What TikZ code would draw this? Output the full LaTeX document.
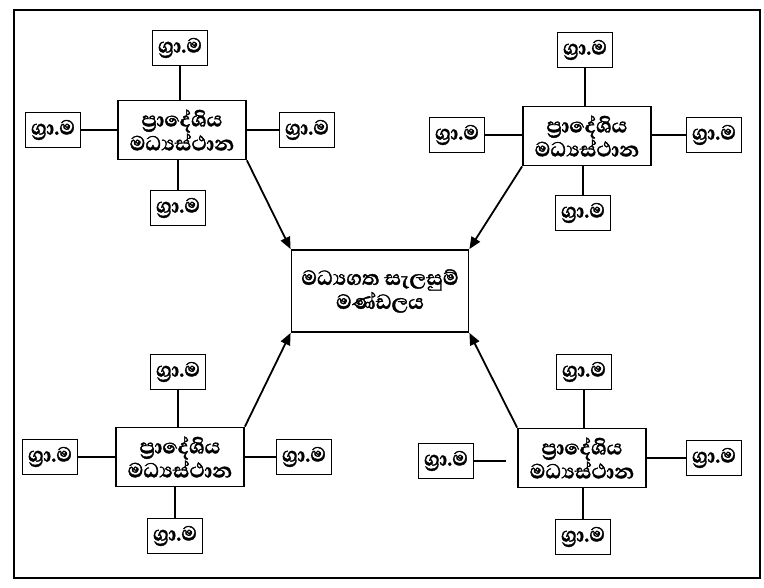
\documentclass[tikz,border=0pt]{standalone}
\usepackage{fontspec}
\newfontfamily\sinhfont[Script=Sinhala,FakeBold=1.5]{Abhaya Libre}
\usetikzlibrary{arrows.meta}
\begin{document}
\begin{tikzpicture}[x=1pt,y=-1pt,
  basebox/.style={draw,line width=1.8pt,inner sep=0pt,align=center,font=\sinhfont\bfseries\fontsize{26}{24}\selectfont},
  gmbox/.style={basebox,minimum width=55pt,minimum height=35pt},
  pmbox/.style={basebox,minimum width=128pt,minimum height=59pt},
  cmbox/.style={basebox,minimum width=177pt,minimum height=82pt},
  linkline/.style={line width=1.5pt},
  arrline/.style={line width=1.8pt,-{Triangle[length=12pt,width=10pt]}}]
\useasboundingbox (0,0) rectangle (764,588);
\draw[line width=2.8pt] (14,10) rectangle (760,578);
\node[cmbox] (c) at (380,291) {මධ්‍යගත සැලසුම්\\මණ්ඩලය};
% top-left
\node[pmbox] (p1) at (182,130) {ප්‍රාදේශිය\\මධ්‍යස්ථාන};
\node[gmbox] (p1t) at (180,48) {ග්‍රා.ම};
\node[gmbox] (p1l) at (53,130) {ග්‍රා.ම};
\node[gmbox] (p1r) at (307,130) {ග්‍රා.ම};
\node[gmbox] (p1b) at (178,208) {ග්‍රා.ම};
% top-right
\node[pmbox] (p2) at (587,136) {ප්‍රාදේශිය\\මධ්‍යස්ථාන};
\node[gmbox] (p2t) at (585,50) {ග්‍රා.ම};
\node[gmbox] (p2l) at (457,135) {ග්‍රා.ම};
\node[gmbox] (p2r) at (714,135) {ග්‍රා.ම};
\node[gmbox] (p2b) at (583,213) {ග්‍රා.ම};
% bottom-left
\node[pmbox] (p3) at (180,457) {ප්‍රාදේශිය\\මධ්‍යස්ථාන};
\node[gmbox] (p3t) at (178,372) {ග්‍රා.ම};
\node[gmbox] (p3l) at (50,457) {ග්‍රා.ම};
\node[gmbox] (p3r) at (304,457) {ග්‍රා.ම};
\node[gmbox] (p3b) at (175,536) {ග්‍රා.ම};
% bottom-right
\node[pmbox] (p4) at (582,458) {ප්‍රාදේශිය\\මධ්‍යස්ථාන};
\node[gmbox] (p4t) at (584,372) {ග්‍රා.ම};
\node[gmbox] (p4l) at (446,461) {ග්‍රා.ම};
\node[gmbox] (p4r) at (714,458) {ග්‍රා.ම};
\node[gmbox] (p4b) at (583,537) {ග්‍රා.ම};
% links
\draw[linkline] (p1t.south) -- (p1t.south |- p1.north);
\draw[linkline] (p1l.east) -- (p1l.east -| p1.west);
\draw[linkline] (p1r.west) -- (p1r.west -| p1.east);
\draw[linkline] (p1b.north) -- (p1b.north |- p1.south);
\draw[linkline] (p2t.south) -- (p2t.south |- p2.north);
\draw[linkline] (p2l.east) -- (p2l.east -| p2.west);
\draw[linkline] (p2r.west) -- (p2r.west -| p2.east);
\draw[linkline] (p2b.north) -- (p2b.north |- p2.south);
\draw[linkline] (p3t.south) -- (p3t.south |- p3.north);
\draw[linkline] (p3l.east) -- (p3l.east -| p3.west);
\draw[linkline] (p3r.west) -- (p3r.west -| p3.east);
\draw[linkline] (p3b.north) -- (p3b.north |- p3.south);
\draw[linkline] (p4t.south) -- (p4t.south |- p4.north);
\draw[linkline,shorten >=11pt] (p4l.east) -- (p4l.east -| p4.west);
\draw[linkline] (p4r.west) -- (p4r.west -| p4.east);
\draw[linkline] (p4b.north) -- (p4b.north |- p4.south);
% arrows
\draw[arrline] (p1.south east) -- (c.north west);
\draw[arrline] (p2.south west) -- (c.north east);
\draw[arrline] (p3.north east) -- (c.south west);
\draw[arrline] (p4.north west) -- (c.south east);
\end{tikzpicture}
\end{document}
